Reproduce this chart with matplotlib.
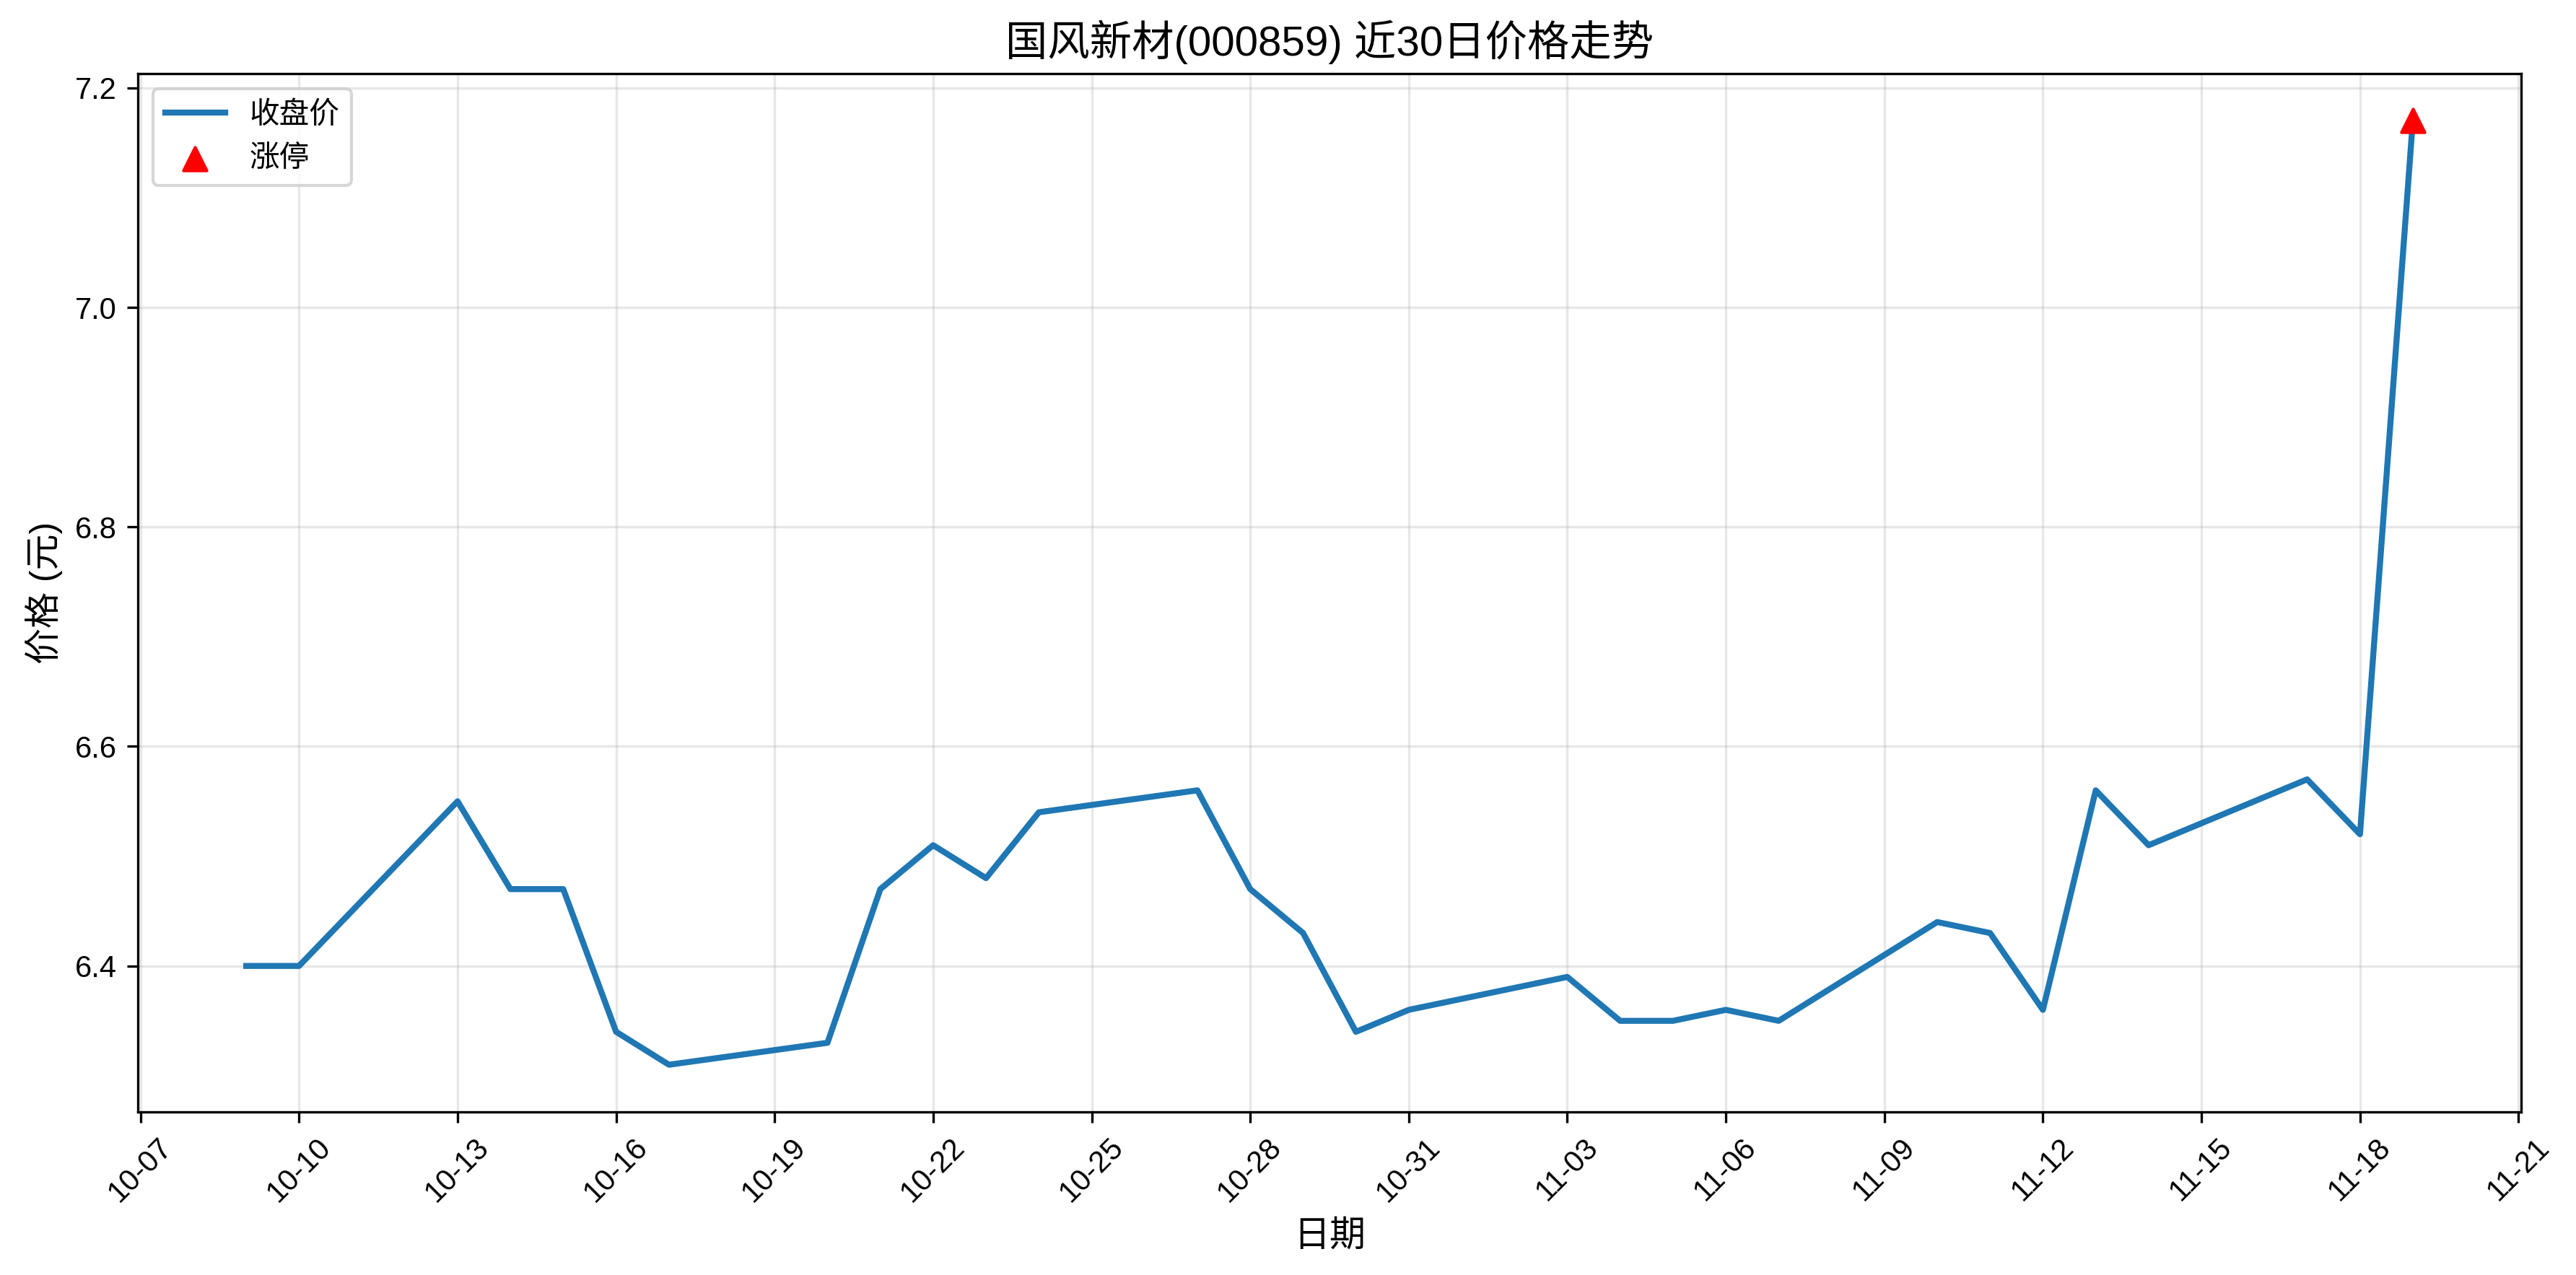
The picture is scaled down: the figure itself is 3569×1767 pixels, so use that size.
import matplotlib
matplotlib.use('Agg')
import matplotlib.pyplot as plt
import matplotlib.dates as mdates
import pandas as pd

plt.rcParams['font.family'] = ['Liberation Sans', 'Noto Sans CJK SC', 'DejaVu Sans']
plt.rcParams['axes.unicode_minus'] = False

# Closing prices, last 30 trading days
dates = ['2025-10-09', '2025-10-10', '2025-10-13', '2025-10-14', '2025-10-15',
         '2025-10-16', '2025-10-17', '2025-10-20', '2025-10-21', '2025-10-22',
         '2025-10-23', '2025-10-24', '2025-10-27', '2025-10-28', '2025-10-29',
         '2025-10-30', '2025-10-31', '2025-11-03', '2025-11-04', '2025-11-05',
         '2025-11-06', '2025-11-07', '2025-11-10', '2025-11-11', '2025-11-12',
         '2025-11-13', '2025-11-14', '2025-11-17', '2025-11-18', '2025-11-19']
close = [6.40, 6.40, 6.55, 6.47, 6.47,
         6.34, 6.31, 6.33, 6.47, 6.51,
         6.48, 6.54, 6.56, 6.47, 6.43,
         6.34, 6.36, 6.39, 6.35, 6.35,
         6.36, 6.35, 6.44, 6.43, 6.36,
         6.56, 6.51, 6.57, 6.52, 7.17]

# Limit-up days
limit_up_dates = ['2025-11-19']
limit_up_close = [7.17]

tick_start = '2025-10-07'
tick_end = '2025-11-21'

dates = pd.to_datetime(dates)
limit_up_dates = pd.to_datetime(limit_up_dates)

fig = plt.figure(figsize=(3569 / 300, 1767 / 300), dpi=300)
ax = fig.add_axes([191 / 3569, 1 - 1541 / 1767, (3493 - 191) / 3569, (1541 - 102) / 1767])

ax.plot(dates, close, linewidth=2, color='#1f77b4', label='收盘价')
ax.scatter(limit_up_dates, limit_up_close, color='red', marker='^', s=60,
           zorder=5, label='涨停')

ax.set_title('国风新材(000859) 近30日价格走势', fontsize=14)
ax.set_xlabel('日期', fontsize=12)
ax.set_ylabel('价格 (元)', fontsize=12)

ax.set_xticks(pd.date_range(tick_start, tick_end, freq='3D'))
ax.xaxis.set_major_formatter(mdates.DateFormatter('%m-%d'))
plt.setp(ax.get_xticklabels(), rotation=45)

ax.grid(True, alpha=0.3)
ax.legend(loc='upper left')

fig.savefig('out.png', dpi=300)
